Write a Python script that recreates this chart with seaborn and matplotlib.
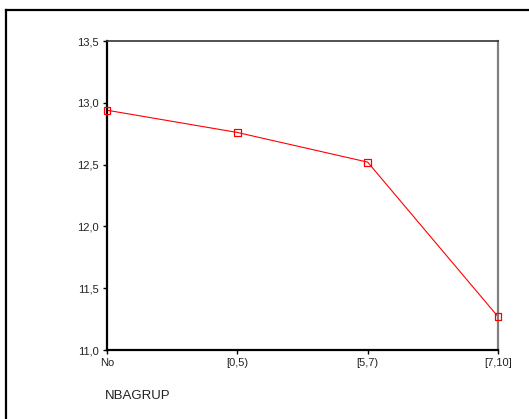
import matplotlib
matplotlib.use("Agg")
import matplotlib.pyplot as plt
import seaborn as sns
import pandas as pd
from matplotlib.ticker import FuncFormatter
from matplotlib.lines import Line2D

groups = ["No", "[0,5)", "[5,7)", "[7,10]"]
means = [12.94, 12.76, 12.52, 11.27]

df = pd.DataFrame({"NBAGRUP": groups, "mean": means})

sns.set_theme(style="white")
plt.rcParams["font.family"] = ["Liberation Sans", "DejaVu Sans"]

fig = plt.figure(figsize=(5.29, 4.19), dpi=100)
ax = fig.add_axes([107 / 529, 69 / 419, 391 / 529, 309 / 419])

sns.lineplot(data=df, x="NBAGRUP", y="mean", ax=ax, color="#ff0000", linewidth=0.8,
             sort=False)
sns.scatterplot(data=df, x="NBAGRUP", y="mean", ax=ax, marker="s", s=24,
                facecolors="none", edgecolor="#ff0000", linewidth=0.9,
                clip_on=False, zorder=5)

ax.set_xlim(0, len(groups) - 1)
ax.set_ylim(11.0, 13.5)
ax.set_yticks([11.0, 11.5, 12.0, 12.5, 13.0, 13.5])
ax.yaxis.set_major_formatter(FuncFormatter(lambda v, p: f"{v:.1f}".replace(".", ",")))
ax.set_xlabel("")
ax.set_ylabel("")

ax.tick_params(axis="both", which="major", direction="out", length=3, width=1,
               color="black", labelsize=8, labelcolor="#222222", pad=3, bottom=True, left=True)

for side in ("left", "bottom"):
    ax.spines[side].set_color("black")
    ax.spines[side].set_linewidth(1.6)
ax.spines["top"].set_color("#333333")
ax.spines["top"].set_linewidth(1.2)
ax.spines["right"].set_color("#808080")
ax.spines["right"].set_linewidth(1.6)
for s in ax.spines.values():
    s.set_visible(True)

fig.text(105 / 529, 1 - 396 / 419, "NBAGRUP", fontsize=9.5, color="#222222",
         ha="left", va="center")

# outer frame (left and top edges)
fig.add_artist(Line2D([6 / 529, 6 / 529], [0, 1 - 10 / 419], transform=fig.transFigure,
                      color="black", linewidth=1.6, solid_capstyle="projecting"))
fig.add_artist(Line2D([6 / 529, 1], [1 - 10 / 419, 1 - 10 / 419], transform=fig.transFigure,
                      color="black", linewidth=1.6, solid_capstyle="projecting"))

fig.savefig("out.png", dpi=100)
